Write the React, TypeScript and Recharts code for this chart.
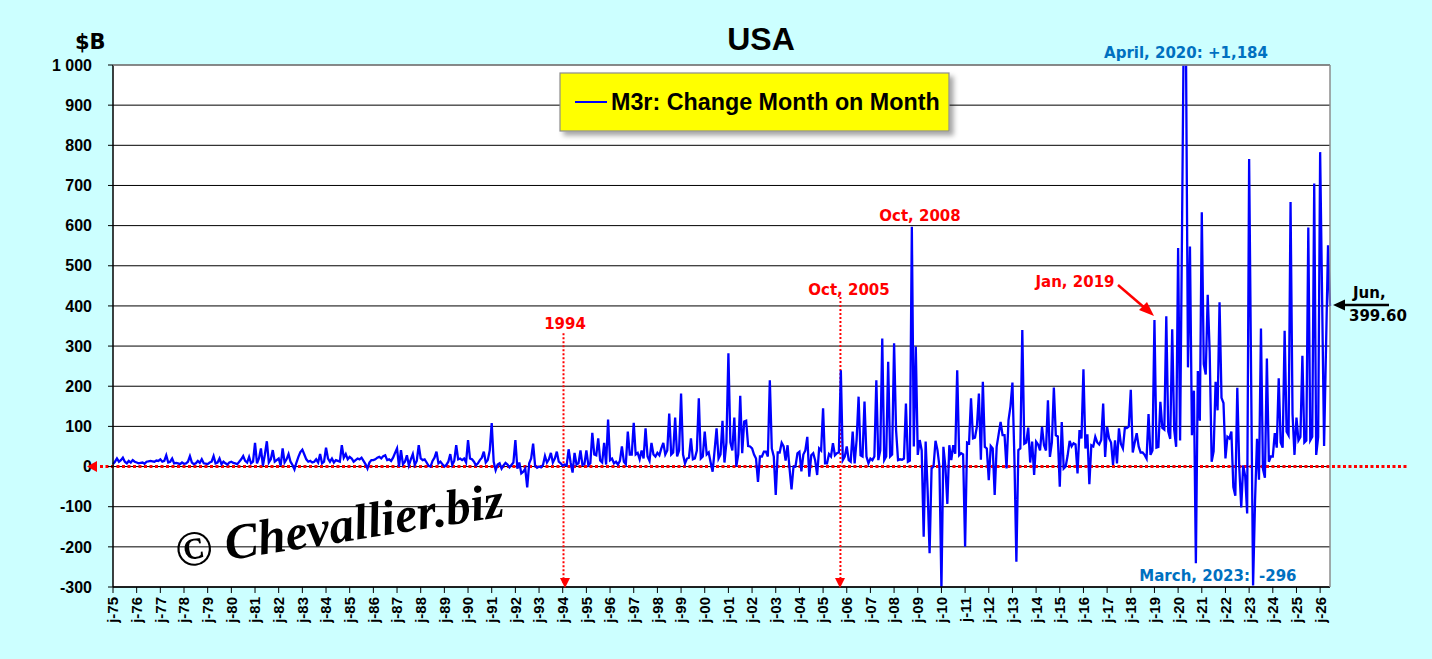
import React from 'react';
import { LineChart, Line, XAxis, YAxis, CartesianGrid, ReferenceLine } from 'recharts';

// Monthly change of M3r, $B, Jan 1975 .. Jun 2026
const m3r1970s = [
  6, 12, 20, 12, 16, 22, 12, 8, 14, 10, 16, 12, // 1975
  10, 8, 9, 10, 7, 12, 13, 14, 13, 12, 15, 14, // 1976
  18, 12, 14, 28, 10, 12, 20, 8, 9, 8, 6, 10, // 1977
  7, 8, 12, 26, 10, 6, 8, 14, 9, 18, 8, 7, // 1978
  6, 10, 12, 26, 8, 10, 20, 6, 12, 8, 5, 10, // 1979
];

const m3r1980s = [
  12, 9, 8, 6, 12, 18, 26, 14, 10, 24, 8, 12, // 1980
  59, 8, 20, 45, 2, 30, 63, 10, 18, 41, 12, 16, // 1981
  20, 2, 45, 10, 18, 31, 12, 4, -7, 10, 24, 36, // 1982
  42, 30, 18, 12, 14, 10, 12, 18, 10, 31, 8, 12, // 1983
  47, 20, 12, 20, 10, 16, 14, 12, 53, 22, 31, 18, // 1984
  24, 20, 12, 16, 20, 18, 22, 14, 6, -5, 10, 16, // 1985
  16, 18, 22, 24, 20, 26, 28, 16, 18, 14, 22, 34, // 1986
  45, 0, 41, 6, 12, 28, 3, 18, 31, 4, 14, 53, // 1987
  20, 16, 18, 10, 2, 0, 14, 22, 37, 8, 12, 6, // 1988
  0, 4, 12, 31, 4, 14, 53, 18, 20, 16, 20, 10, // 1989
];

const m3r1990s = [
  66, 20, 18, 12, 3, 8, 16, 22, 37, 10, 16, 40, // 1990
  108, 12, -9, 5, 8, -5, 3, 9, 5, -2, 4, 10, // 1991
  66, -5, 10, -17, -13, -5, -52, 8, 20, 57, 2, -3, // 1992
  0, -2, 4, 26, 10, 18, 34, 10, 20, 37, 12, 8, // 1993
  2, 5, 3, 43, 10, -15, 34, 5, 8, 40, 4, 6, // 1994
  40, 3, 8, 84, 30, 28, 70, 15, 10, 59, 5, 117, // 1995
  16, 20, 8, 12, 5, 14, 50, 12, 6, 87, 30, 30, // 1996
  109, 30, 34, 18, 40, 20, 95, 25, 14, 59, 30, 25, // 1997
  34, 28, 45, 59, 30, 40, 132, 30, 35, 122, 25, 40, // 1998
  182, 30, 8, 20, 22, 70, 18, 20, 40, 170, 20, 25, // 1999
];

const m3r2000s = [
  87, 30, 35, 10, -13, 40, 95, 20, 30, 114, 10, 60, // 2000
  282, 60, 40, 122, 0, 30, 176, 33, 112, 114, 51, 50, // 2001
  45, 30, 20, -38, 25, 25, 37, 37, 25, 215, 45, 25, // 2002
  -71, 35, 35, 59, 50, 15, 53, -5, -57, 0, 0, 33, // 2003
  37, -12, 30, 40, 74, -25, 28, 33, 15, -21, 45, 40, // 2004
  145, 8, 8, 31, 25, 58, 28, 33, 35, 240, 16, 25, // 2005
  50, 16, 12, 87, 8, 66, 174, 28, 25, 162, 25, 8, // 2006
  20, 16, 25, 215, 16, 40, 319, 16, 25, 261, 25, 30, // 2007
  307, 91, 16, 18, 17, 20, 157, 12, 15, 597, 50, 299, // 2008
  29, 66, 40, -175, 62, -60, -216, -5, 0, 64, 41, 0, // 2009
];

const m3r2010s = [
  -305, 49, 0, -93, 53, 16, 53, 32, 240, 28, 33, 30, // 2010
  -200, 60, 58, 170, 70, 72, 100, 182, 17, 211, 49, 45, // 2011
  -34, 51, 45, -71, 49, 80, 111, 78, 78, -5, 115, 150, // 2012
  209, 20, -237, 41, 45, 340, 57, 60, 97, 10, 62, -21, // 2013
  62, 55, 40, 99, 53, 40, 165, 24, 60, 197, 78, 75, // 2014
  -50, 111, -5, 0, 28, 64, 50, 58, 55, -17, 91, 70, // 2015
  242, 45, 80, -44, 53, 50, 74, 60, 55, 66, 157, 24, // 2016
  99, 70, 60, 4, 65, 8, 95, 56, 45, 96, 96, 100, // 2017
  191, 35, 60, 83, 50, 35, 35, 29, 20, 131, 29, 40, // 2018
  365, 47, 49, 161, 96, 92, 374, 87, 69, 342, 92, 49, // 2019
];

const m3r2020s = [
  544, 65, 600, 1184, 1030, 247, 548, 78, 189, -241, 238, 114, // 2020
  633, 255, 229, 428, 286, 12, 38, 211, 140, 409, 171, 158, // 2021
  20, 74, 70, 87, -51, -73, 196, -2, -102, 3, -24, -117, // 2022
  766, 230, -296, -86, 69, -33, 344, -6, -28, 269, 12, 25, // 2023
  25, 83, 47, 220, 60, 47, 338, 87, 78, 659, 131, 29, // 2024
  122, 65, 74, 276, 60, 65, 595, 65, 74, 705, 29, 74, // 2025
  783, 420, 51, 300, 551, 399.6, // 2026
];

const firstYear = 1975;
const yTicks = [-300, -200, -100, 0, 100, 200, 300, 400, 500, 600, 700, 800, 900, 1000];

const values = [...m3r1970s, ...m3r1980s, ...m3r1990s, ...m3r2000s, ...m3r2010s, ...m3r2020s];
const data = values.map((value, idx) => ({ idx, value }));
const lastIdx = values.length - 1;
const yearTicks = Array.from({ length: Math.floor(lastIdx / 12) + 1 }, (_, i) => i * 12);

const ARIAL = '"Liberation Sans", Arial, sans-serif';
const TAHOMA = '"DejaVu Sans", Verdana, sans-serif';

function yearLabel(idx: number) {
  const yy = (firstYear + Math.round(idx / 12)) % 100;
  return 'j-' + String(yy).padStart(2, '0');
}

function YearTick({ x, y, payload }: any) {
  return (
    <text
      transform={`translate(${x},${y + 1}) rotate(-90)`}
      textAnchor="end"
      dy="0.36em"
      fontSize={15}
      fontWeight="bold"
      fontFamily={ARIAL}
      fill="#000"
    >
      {yearLabel(payload.value)}
    </text>
  );
}

function Overlay() {
  const red = '#ff0000';
  const blue = '#0070c0';
  return (
    <svg width={1432} height={659} style={{ position: 'absolute', left: 0, top: 0, pointerEvents: 'none' }}>
      <defs>
        <filter id="legendShadow" x="-10%" y="-20%" width="130%" height="160%">
          <feDropShadow dx="4" dy="4" stdDeviation="2.5" floodColor="#000" floodOpacity="0.35" />
        </filter>
      </defs>

      {/* plot frame, top and right */}
      <line x1={113} y1={65} x2={1330} y2={65} stroke="#8c8c8c" strokeWidth={1.5} />
      <line x1={1330} y1={65} x2={1330} y2={587} stroke="#8c8c8c" strokeWidth={1.5} />

      <text x={761} y={50} textAnchor="middle" fontFamily={ARIAL} fontWeight="bold" fontSize={32} fill="#000">USA</text>
      <text x={75} y={49} fontFamily={TAHOMA} fontWeight="bold" fontSize={21} fill="#000">$B</text>

      {/* legend */}
      <rect x={560} y={73} width={389} height={58} fill="#ffff00" stroke="#8c8c8c" strokeWidth={1.2} filter="url(#legendShadow)" />
      <line x1={575} y1={102} x2={607} y2={102} stroke="#0000ff" strokeWidth={2} />
      <text x={611} y={110} fontFamily={ARIAL} fontWeight="bold" fontSize={23.3} fill="#000">M3r: Change Month on Month</text>

      {/* watermark */}
      <text
        x={178}
        y={568}
        transform="rotate(-9 178 568)"
        fontFamily='"Liberation Serif", "DejaVu Serif", serif'
        fontStyle="italic"
        fontWeight="bold"
        fontSize={50}
        fill="#000"
      >
        © Chevallier.biz
      </text>

      {/* arrowheads */}
      <polygon points="87,466.5 97,461 97,472" fill={red} />
      <polygon points="560,578 570,578 565,588" fill={red} />
      <polygon points="835,578 845,578 840,588" fill={red} />

      {/* red labels */}
      <g fontFamily={TAHOMA} fontWeight="bold" fontSize={15} fill={red} textAnchor="middle">
        <text x={565} y={329}>1994</text>
        <text x={849} y={295}>Oct, 2005</text>
        <text x={920} y={221}>Oct, 2008</text>
        <text x={1075} y={287}>Jan, 2019</text>
      </g>
      <line x1={1118} y1={285} x2={1146} y2={309} stroke={red} strokeWidth={2.5} />
      <polygon points="1154,316 1139,310 1147,302" fill={red} />

      {/* blue labels */}
      <g fontFamily={TAHOMA} fontWeight="bold" fontSize={15} fill={blue}>
        <text x={1186} y={58} textAnchor="middle">April, 2020: +1,184</text>
        <text x={1250} y={581} textAnchor="end">March, 2023:</text>
        <text x={1259} y={581}>-296</text>
      </g>

      {/* last value */}
      <line x1={1343} y1={305} x2={1389} y2={305} stroke="#000" strokeWidth={2.5} />
      <polygon points="1333,305 1345,299.5 1345,310.5" fill="#000" />
      <g fontFamily={TAHOMA} fontWeight="bold" fontSize={15} fill="#000">
        <text x={1353} y={298}>Jun,</text>
        <text x={1349} y={321}>399.60</text>
      </g>
    </svg>
  );
}

export default function App() {
  return (
    <div style={{ position: 'absolute', left: 0, top: 0, width: 1432, height: 659, background: '#ccffff', overflow: 'hidden' }}>
      <LineChart width={1432} height={659} data={data} margin={{ top: 65, right: 102, left: 0, bottom: 12 }}>
        <CartesianGrid vertical={false} stroke="#000" strokeWidth={1} fill="#ffffff" fillOpacity={1} />
        <XAxis
          type="number"
          dataKey="idx"
          domain={[0, lastIdx]}
          ticks={yearTicks}
          interval={0}
          height={60}
          tickSize={6}
          tickMargin={3}
          axisLine={{ stroke: '#000', strokeWidth: 1.5 }}
          tickLine={{ stroke: '#000' }}
          tick={<YearTick />}
        />
        <YAxis
          type="number"
          domain={[-300, 1000]}
          ticks={yTicks}
          interval={0}
          allowDataOverflow
          width={113}
          tickSize={5}
          tickMargin={16}
          axisLine={{ stroke: '#000', strokeWidth: 1.5 }}
          tickLine={{ stroke: '#000' }}
          tick={{ fill: '#000', fontSize: 16, fontWeight: 'bold', fontFamily: ARIAL }}
          tickFormatter={(v: number) => (v === 1000 ? '1 000' : String(v))}
        />
        <ReferenceLine
          segment={[{ x: -6.6, y: 0 }, { x: 657, y: 0 }]}
          ifOverflow="visible"
          stroke="#ff0000"
          strokeWidth={3}
          strokeDasharray="3 2.5"
        />
        <ReferenceLine
          segment={[{ x: 228.4, y: 332 }, { x: 228.4, y: -290 }]}
          ifOverflow="visible"
          stroke="#ff0000"
          strokeWidth={2}
          strokeDasharray="2 2"
        />
        <ReferenceLine
          segment={[{ x: 368.8, y: 422 }, { x: 368.8, y: -290 }]}
          ifOverflow="visible"
          stroke="#ff0000"
          strokeWidth={2}
          strokeDasharray="2 2"
        />
        <Line
          type="linear"
          dataKey="value"
          stroke="#0000ff"
          strokeWidth={2.3}
          dot={false}
          activeDot={false}
          isAnimationActive={false}
        />
      </LineChart>
      <Overlay />
    </div>
  );
}
